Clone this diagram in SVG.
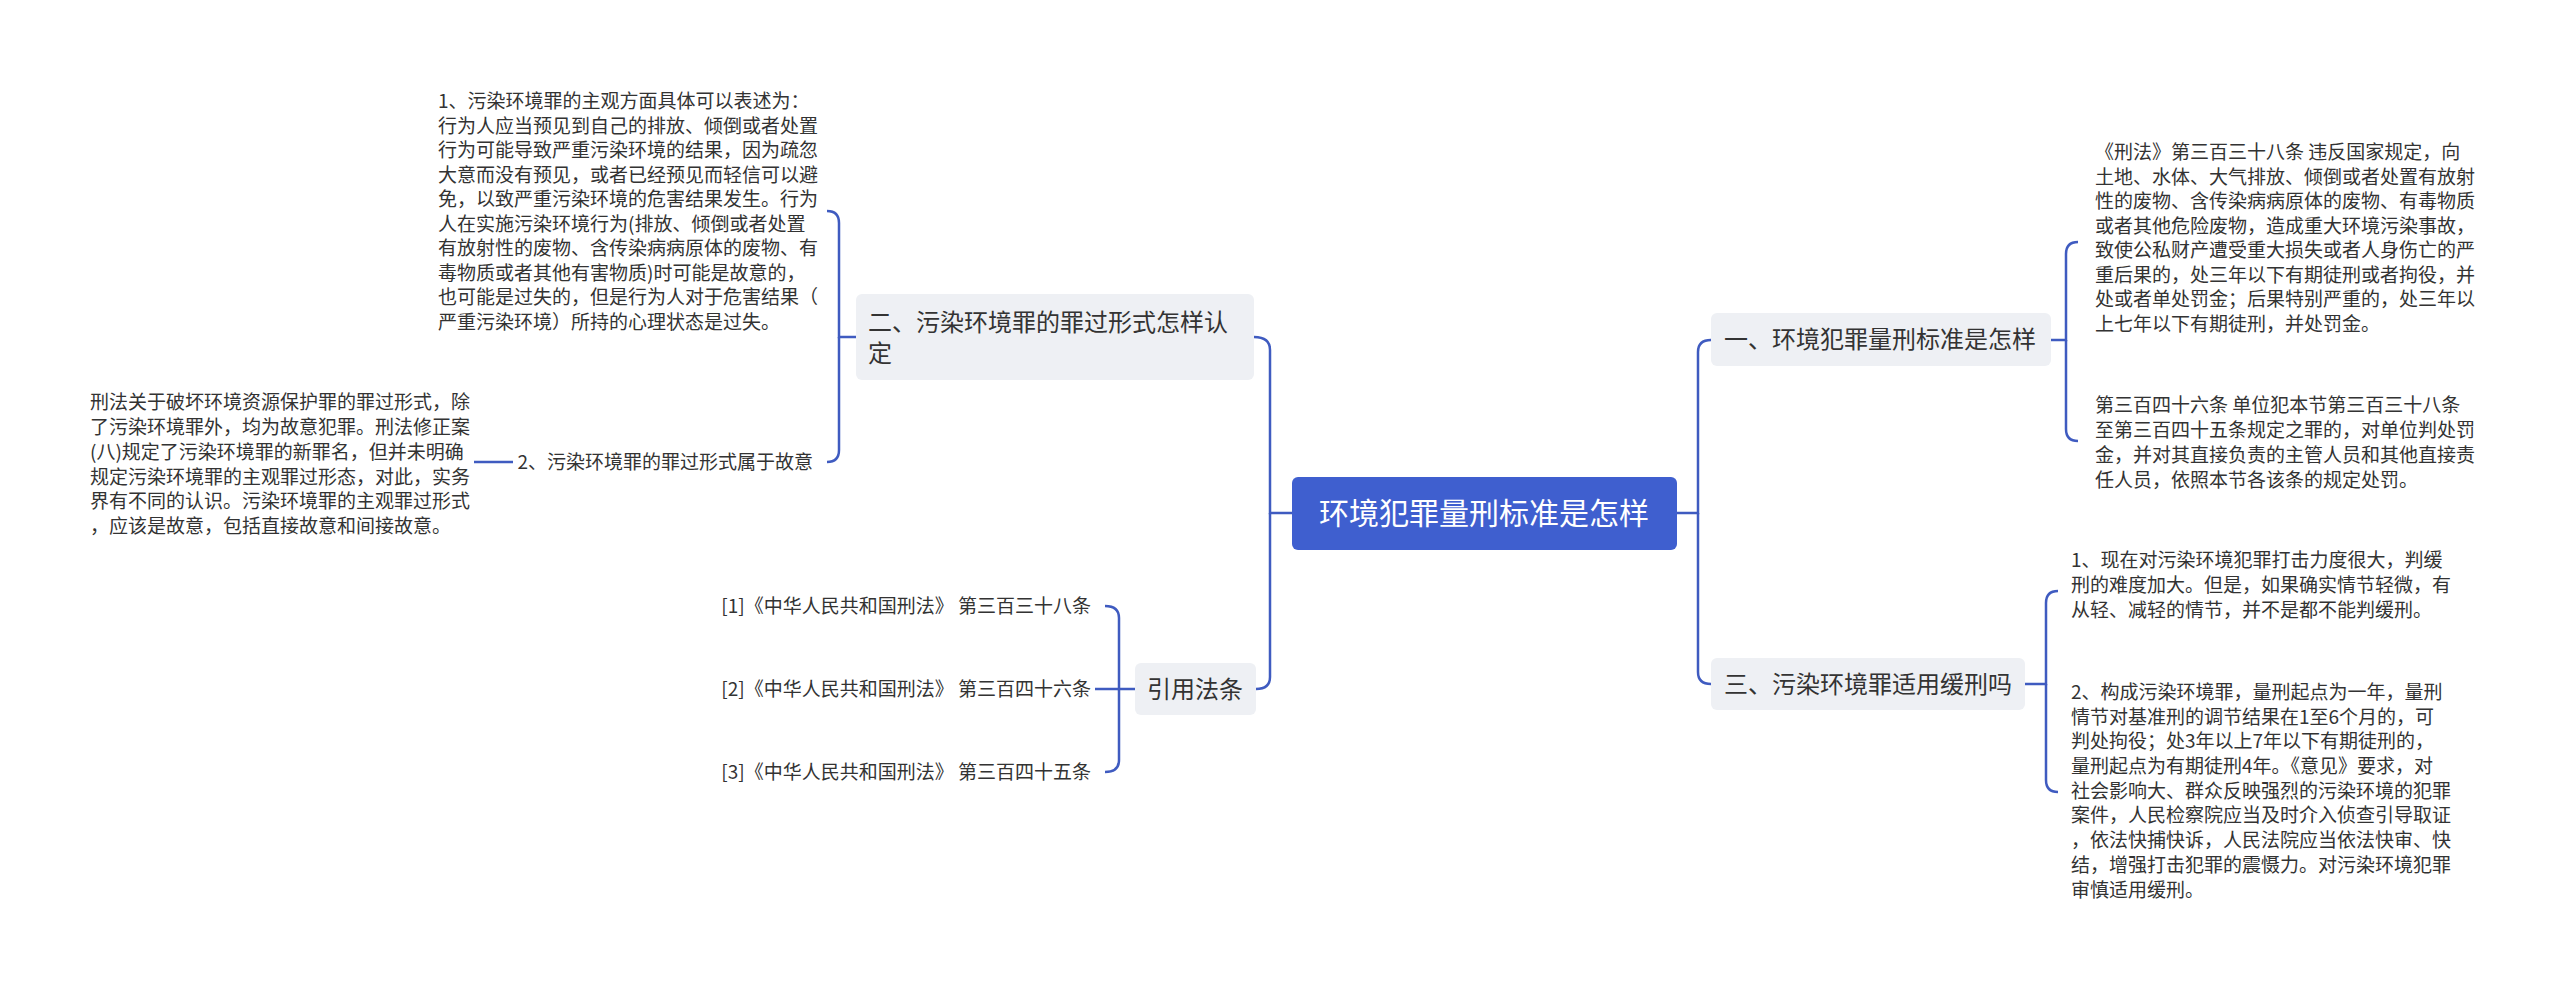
<svg xmlns="http://www.w3.org/2000/svg" width="2560" height="987" viewBox="0 0 2560 987">
<style>
.t{font-family:"Noto Sans CJK SC","Noto Sans",sans-serif;fill:#333;font-size:19px}
.b{font-family:"Noto Sans CJK SC","Noto Sans",sans-serif;fill:#333;font-size:24px}
.r{font-family:"Noto Sans CJK SC","Noto Sans",sans-serif;fill:#fff;font-size:30px}
.bx{fill:#eef0f4}
.c{fill:none;stroke:#3f5bc0;stroke-width:2.5}
</style>
<rect width="2560" height="987" fill="#fff"/>
<g id="connectors">
<path class="c" d="M1677 513 H1698 V352 Q1698 340 1711 340"/>
<path class="c" d="M1698 513 V672 Q1698 684 1711 684"/>
<path class="c" d="M1292 513 H1270 V350 Q1270 337 1254 337"/>
<path class="c" d="M1270 513 V677 Q1270 689 1256 689"/>
<path class="c" d="M2051 340 H2066 V254 Q2066 242 2078 242"/>
<path class="c" d="M2066 340 V429 Q2066 441 2078 441"/>
<path class="c" d="M2025 684 H2046 V603 Q2046 591 2058 591"/>
<path class="c" d="M2046 684 V780 Q2046 792 2058 792"/>
<path class="c" d="M856 337 H839 V223 Q839 211 827 211"/>
<path class="c" d="M839 337 V450 Q839 462 827 462"/>
<path class="c" d="M513 462 H474"/>
<path class="c" d="M1135 689 H1119 V618 Q1119 606 1105 606"/>
<path class="c" d="M1119 689 V760 Q1119 772 1105 772"/>
<path class="c" d="M1119 689 H1095"/>
</g>
<g id="root"><rect x="1292" y="477" width="385" height="73" rx="6" fill="#3f5fcf"/><text class="r" x="1484" y="524" text-anchor="middle">环境犯罪量刑标准是怎样</text></g>
<g id="b1"><rect class="bx" x="1711" y="313" width="340" height="53" rx="6"/><text class="b" x="1724" y="348">一、环境犯罪量刑标准是怎样</text></g>
<g id="b3"><rect class="bx" x="1711" y="658" width="314" height="52" rx="6"/><text class="b" x="1724" y="693">三、污染环境罪适用缓刑吗</text></g>
<g id="b2"><rect class="bx" x="856" y="294" width="398" height="86" rx="6"/><text class="b" x="868" y="331">二、污染环境罪的罪过形式怎样认</text><text class="b" x="868" y="362">定</text></g>
<g id="b4"><rect class="bx" x="1135" y="663" width="121" height="52" rx="6"/><text class="b" x="1147" y="698">引用法条</text></g>
<g id="l1"><text class="t" x="2095">
<tspan x="2095" y="159">《刑法》第三百三十八条 违反国家规定，向</tspan>
<tspan x="2095" y="184">土地、水体、大气排放、倾倒或者处置有放射</tspan>
<tspan x="2095" y="208">性的废物、含传染病病原体的废物、有毒物质</tspan>
<tspan x="2095" y="233">或者其他危险废物，造成重大环境污染事故，</tspan>
<tspan x="2095" y="257">致使公私财产遭受重大损失或者人身伤亡的严</tspan>
<tspan x="2095" y="282">重后果的，处三年以下有期徒刑或者拘役，并</tspan>
<tspan x="2095" y="306">处或者单处罚金；后果特别严重的，处三年以</tspan>
<tspan x="2095" y="331">上七年以下有期徒刑，并处罚金。</tspan></text></g>
<g id="l2"><text class="t">
<tspan x="2095" y="412">第三百四十六条 单位犯本节第三百三十八条</tspan>
<tspan x="2095" y="437">至第三百四十五条规定之罪的，对单位判处罚</tspan>
<tspan x="2095" y="462">金，并对其直接负责的主管人员和其他直接责</tspan>
<tspan x="2095" y="487">任人员，依照本节各该条的规定处罚。</tspan></text></g>
<g id="l3"><text class="t">
<tspan x="2071" y="567">1、现在对污染环境犯罪打击力度很大，判缓</tspan>
<tspan x="2071" y="592">刑的难度加大。但是，如果确实情节轻微，有</tspan>
<tspan x="2071" y="617">从轻、减轻的情节，并不是都不能判缓刑。</tspan></text></g>
<g id="l4"><text class="t">
<tspan x="2071" y="699">2、构成污染环境罪，量刑起点为一年，量刑</tspan>
<tspan x="2071" y="724">情节对基准刑的调节结果在1至6个月的，可</tspan>
<tspan x="2071" y="748">判处拘役；处3年以上7年以下有期徒刑的，</tspan>
<tspan x="2071" y="773">量刑起点为有期徒刑4年。《意见》要求，对</tspan>
<tspan x="2071" y="798">社会影响大、群众反映强烈的污染环境的犯罪</tspan>
<tspan x="2071" y="822">案件，人民检察院应当及时介入侦查引导取证</tspan>
<tspan x="2071" y="847">，依法快捕快诉，人民法院应当依法快审、快</tspan>
<tspan x="2071" y="872">结，增强打击犯罪的震慑力。对污染环境犯罪</tspan>
<tspan x="2071" y="897">审慎适用缓刑。</tspan></text></g>
<g id="l5"><text class="t">
<tspan x="438" y="108">1、污染环境罪的主观方面具体可以表述为：</tspan>
<tspan x="438" y="133">行为人应当预见到自己的排放、倾倒或者处置</tspan>
<tspan x="438" y="157">行为可能导致严重污染环境的结果，因为疏忽</tspan>
<tspan x="438" y="182">大意而没有预见，或者已经预见而轻信可以避</tspan>
<tspan x="438" y="206">免，以致严重污染环境的危害结果发生。行为</tspan>
<tspan x="438" y="231">人在实施污染环境行为(排放、倾倒或者处置</tspan>
<tspan x="438" y="255">有放射性的废物、含传染病病原体的废物、有</tspan>
<tspan x="438" y="280">毒物质或者其他有害物质)时可能是故意的，</tspan>
<tspan x="438" y="304">也可能是过失的，但是行为人对于危害结果（</tspan>
<tspan x="438" y="329">严重污染环境）所持的心理状态是过失。</tspan></text></g>
<g id="l6"><text class="t" x="813" y="469" text-anchor="end">2、污染环境罪的罪过形式属于故意</text></g>
<g id="l7"><text class="t">
<tspan x="90" y="409">刑法关于破坏环境资源保护罪的罪过形式，除</tspan>
<tspan x="90" y="434">了污染环境罪外，均为故意犯罪。刑法修正案</tspan>
<tspan x="90" y="459">(八)规定了污染环境罪的新罪名，但并未明确</tspan>
<tspan x="90" y="484">规定污染环境罪的主观罪过形态，对此，实务</tspan>
<tspan x="90" y="508">界有不同的认识。污染环境罪的主观罪过形式</tspan>
<tspan x="90" y="533">，应该是故意，包括直接故意和间接故意。</tspan></text></g>
<g id="r1"><text class="t" x="1091" y="613" text-anchor="end">[1]《中华人民共和国刑法》 第三百三十八条</text></g>
<g id="r2"><text class="t" x="1091" y="696" text-anchor="end">[2]《中华人民共和国刑法》 第三百四十六条</text></g>
<g id="r3"><text class="t" x="1091" y="779" text-anchor="end">[3]《中华人民共和国刑法》 第三百四十五条</text></g>
</svg>
